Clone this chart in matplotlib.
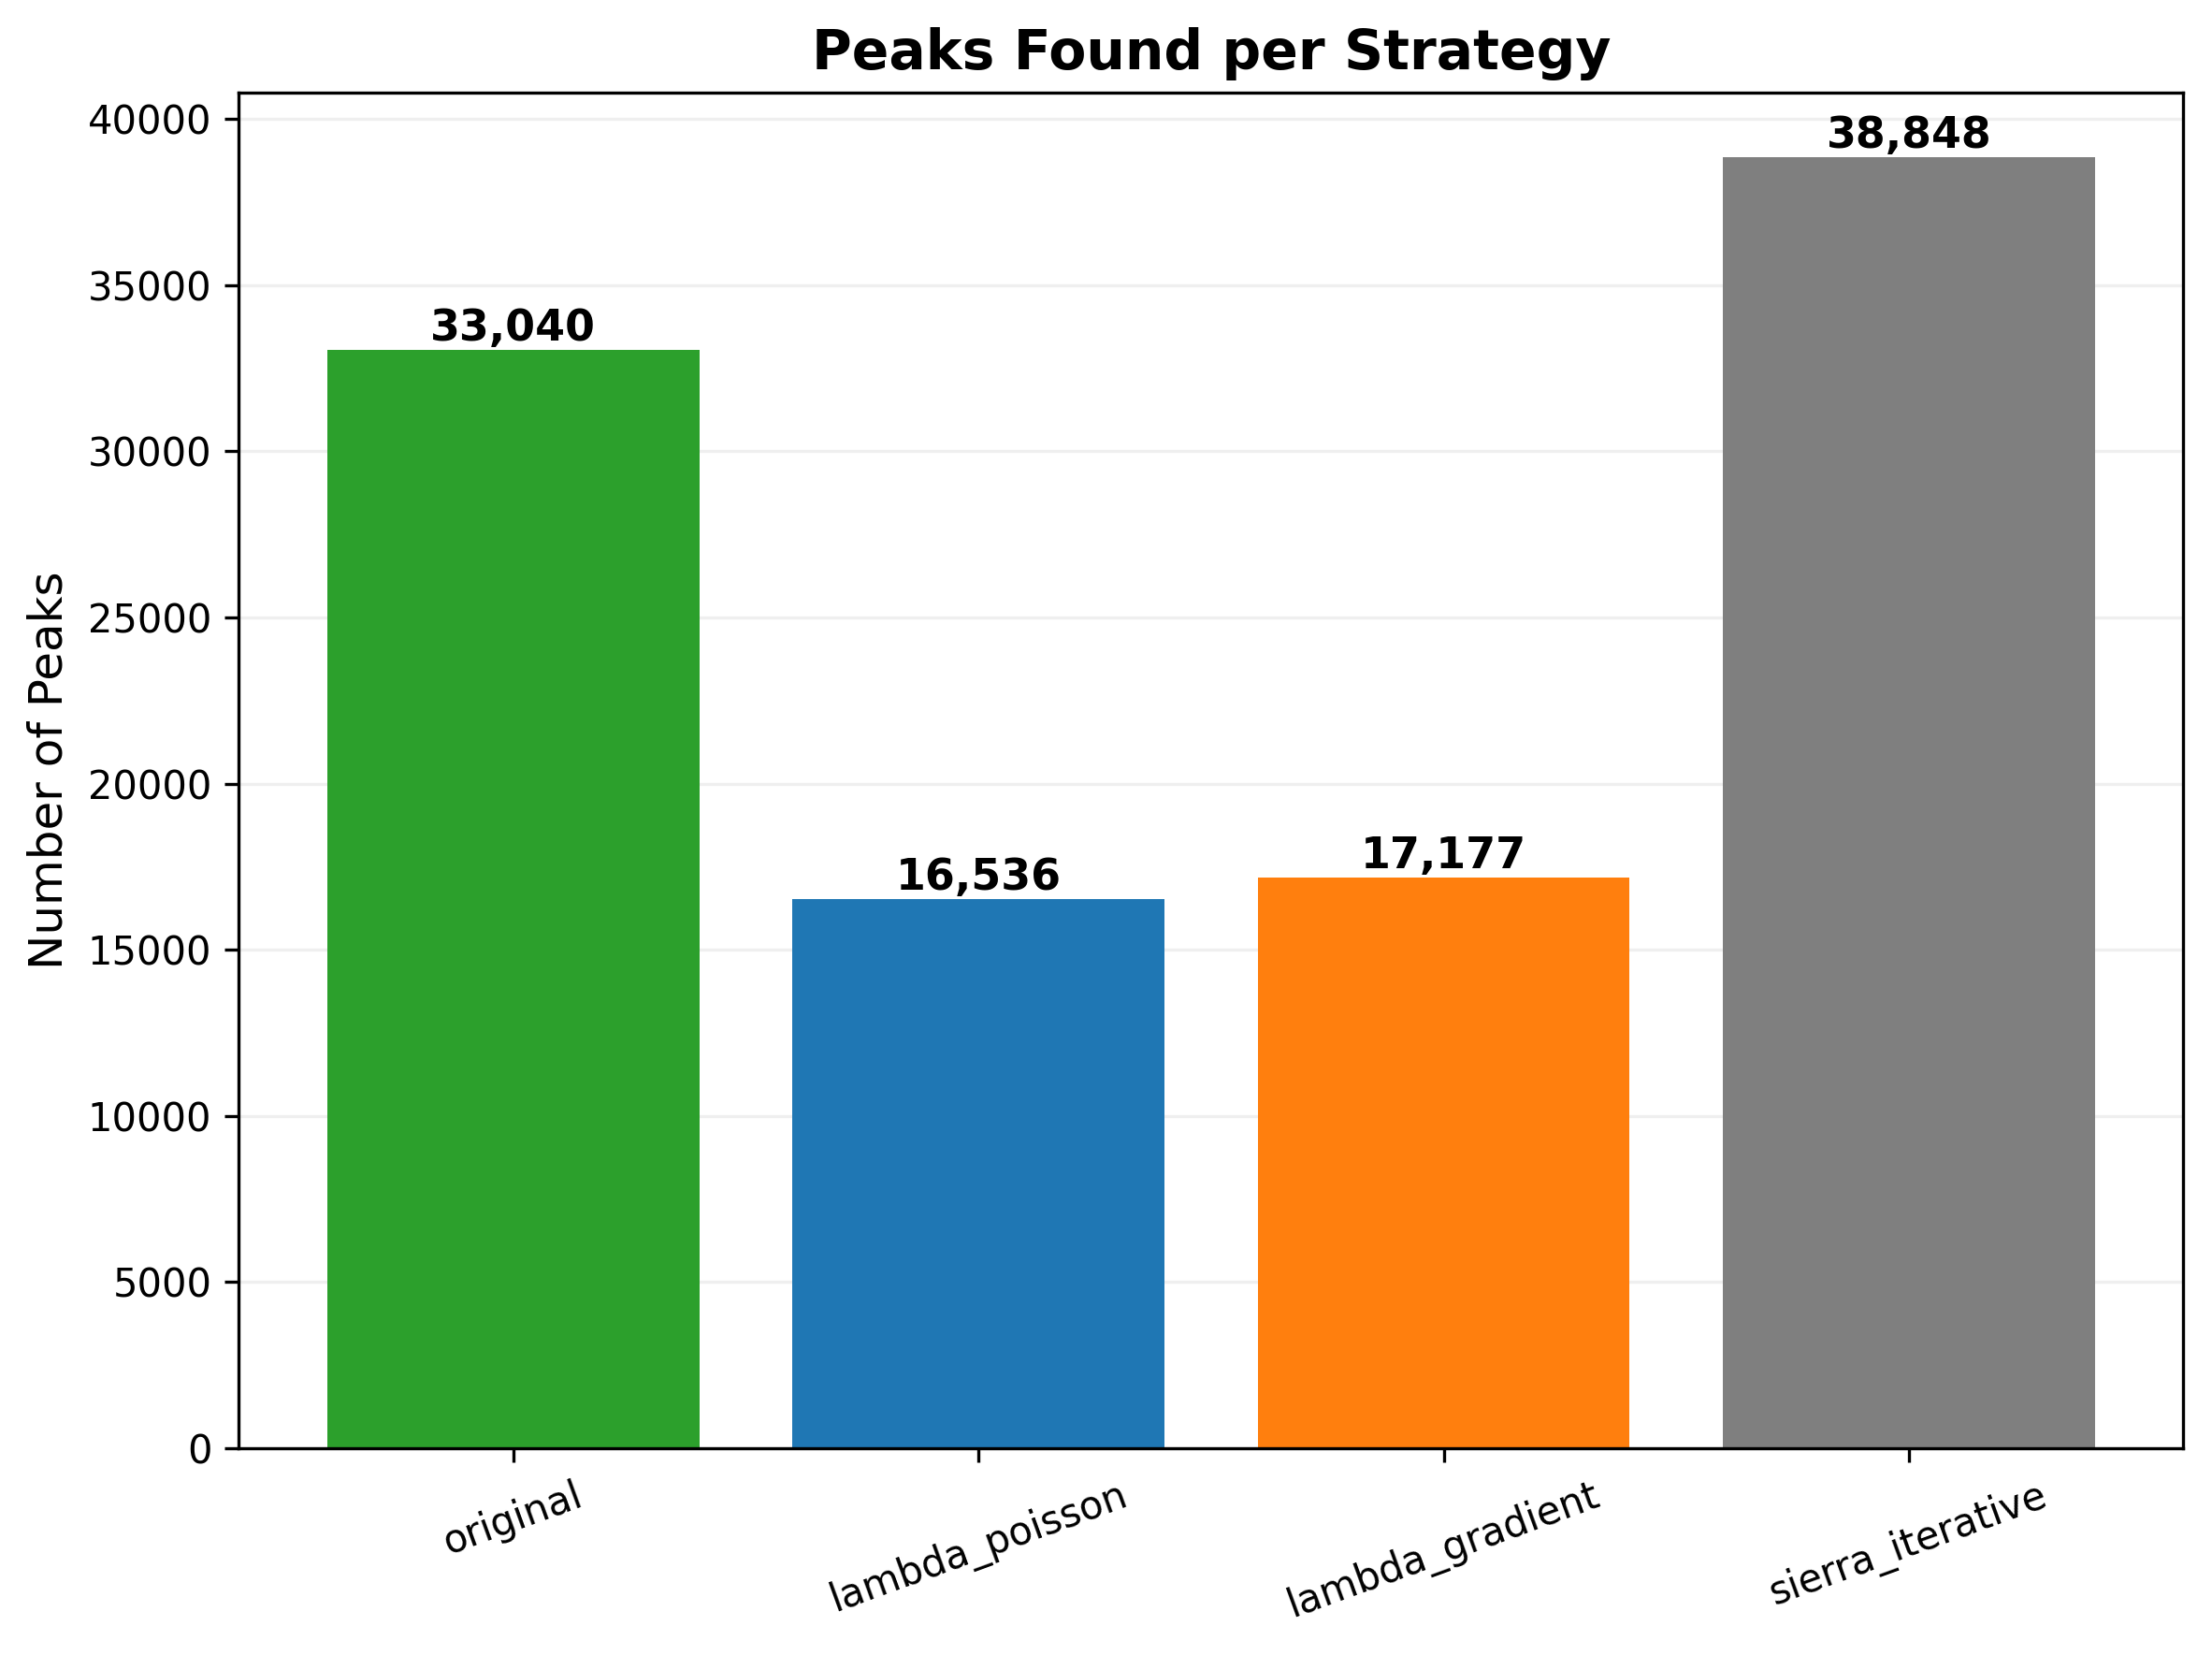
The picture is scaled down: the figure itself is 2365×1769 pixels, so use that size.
import matplotlib
matplotlib.use('Agg')
import matplotlib.pyplot as plt

strategies = ['original', 'lambda_poisson', 'lambda_gradient', 'sierra_iterative']
peaks = [33040, 16536, 17177, 38848]
colors = ['#2ca02c', '#1f77b4', '#ff7f0e', '#7f7f7f']

fig, ax = plt.subplots(figsize=(2365 / 300, 1769 / 300), dpi=300)
bars = ax.bar(strategies, peaks, color=colors)
for b, v in zip(bars, peaks):
  ax.text(b.get_x() + b.get_width() / 2, b.get_height(), f'{v:,}',
          ha='center', va='bottom', fontweight='bold', fontsize=11)
ax.set_ylabel('Number of Peaks', fontsize=12)
ax.set_title('Peaks Found per Strategy', fontsize=14, fontweight='bold')
ax.grid(axis='y', alpha=0.2)
ax.set_axisbelow(True)
plt.setp(ax.get_xticklabels(), rotation=20)
fig.subplots_adjust(left=0.108, right=0.987, top=0.944, bottom=0.125)
fig.savefig('out.png', dpi=300)
